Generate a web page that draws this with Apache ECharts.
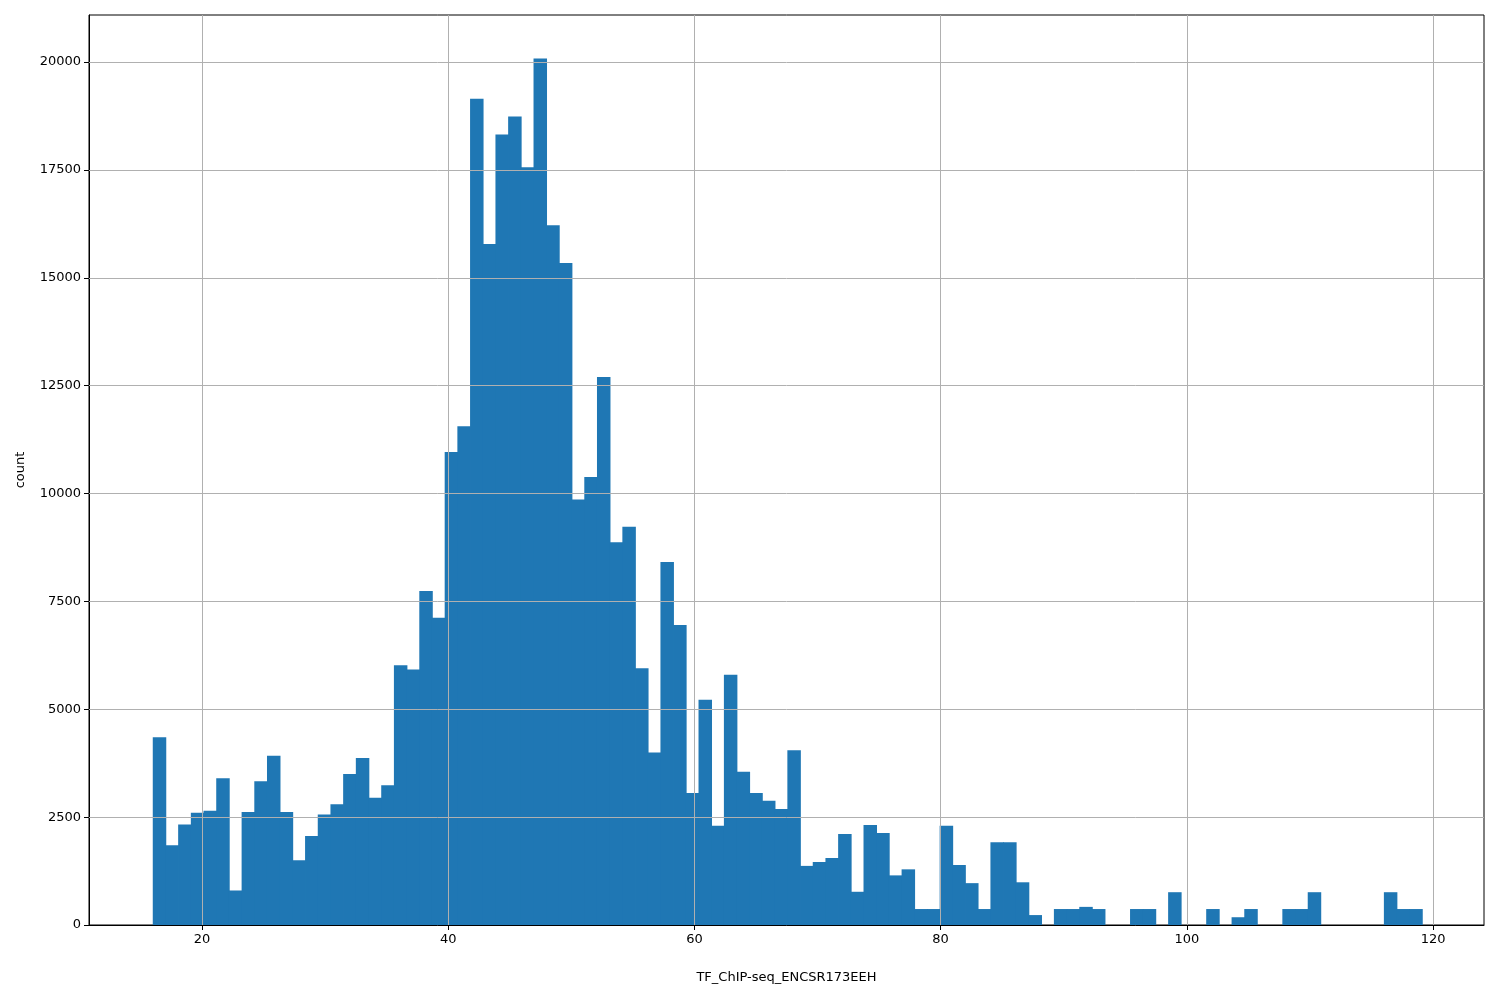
<!DOCTYPE html>
<html><head><meta charset="utf-8">
<script src="https://cdn.jsdelivr.net/npm/echarts@6/dist/echarts.min.js"></script>
<style>html,body{margin:0;padding:0;background:#fff}#c{width:1500px;height:1000px}</style>
</head><body><div id="c"></div>
<script>
const binStart = 16;
const binWidth = 1.031;
const counts = [4350,1850,2330,2600,2650,3400,800,2620,3330,3920,
2620,1500,2060,2560,2800,3500,3870,2950,3240,6020,
5920,7740,7120,10960,11560,19150,15780,18320,18740,17560,
20080,16220,15340,9860,10380,12700,8870,9230,5950,4000,
8410,6950,3060,5220,2300,5800,3550,3060,2880,2690,
4050,1370,1460,1550,2110,770,2320,2130,1150,1290,
370,370,2300,1390,970,370,1920,1920,990,230,
0,370,370,420,370,0,0,370,370,0,
760,0,0,370,0,180,370,0,0,370,
370,760,0,0,0,0,0,760,370,370];
const xTicks = [20,40,60,80,100,120];
const yTicks = [0,2500,5000,7500,10000,12500,15000,17500,20000];
const data = counts.map((c,i)=>[binStart+i*binWidth, binStart+(i+1)*binWidth, c]);
const font = 'DejaVu Sans';
const chart = echarts.init(document.getElementById('c'));
const gl = {color:'#b0b0b0', width:1, type:'solid'};
chart.setOption({
  animation:false,
  grid:{left:89,right:16,top:15,bottom:75,show:true,borderColor:'#000',borderWidth:1,backgroundColor:'transparent'},
  xAxis:{type:'value',min:10.82,max:124.14,name:'TF_ChIP-seq_ENCSR173EEH',nameLocation:'middle',nameGap:46,
    nameTextStyle:{fontFamily:font,fontSize:13,color:'#000'},
    axisLine:{lineStyle:{color:'#000'}},splitLine:{show:false},
    axisTick:{customValues:xTicks,length:5,inside:false,lineStyle:{color:'#000'}},
    axisLabel:{customValues:xTicks,fontFamily:font,fontSize:13,color:'#000',margin:8,formatter:v=>String(v)}},
  yAxis:{type:'value',min:0,max:21090,name:'count',nameLocation:'middle',nameGap:62,
    nameTextStyle:{fontFamily:font,fontSize:13,color:'#000'},
    axisLine:{show:true,lineStyle:{color:'#000'}},splitLine:{show:false},
    axisTick:{show:true,customValues:yTicks,length:5,lineStyle:{color:'#000'}},
    axisLabel:{customValues:yTicks,fontFamily:font,fontSize:13,color:'#000',margin:8,formatter:v=>String(v)}},
  series:[{
    type:'custom',data:data,encode:{x:[0,1],y:2},z:2,
    renderItem:function(params,api){
      if (api.value(2) <= 0) return null;
      const p0=api.coord([api.value(0),api.value(2)]);
      const p1=api.coord([api.value(1),0]);
      return {type:'rect',shape:{x:p0[0],y:p0[1],width:p1[0]-p0[0]+0.8,height:p1[1]-p0[1]},style:{fill:'#1f77b4'}};
    },
    markLine:{silent:true,symbol:'none',label:{show:false},lineStyle:gl,z:5,
      data:[...xTicks.map(v=>({xAxis:v})),...yTicks.slice(1).map(v=>({yAxis:v}))]}
  }]
});
</script></body></html>
